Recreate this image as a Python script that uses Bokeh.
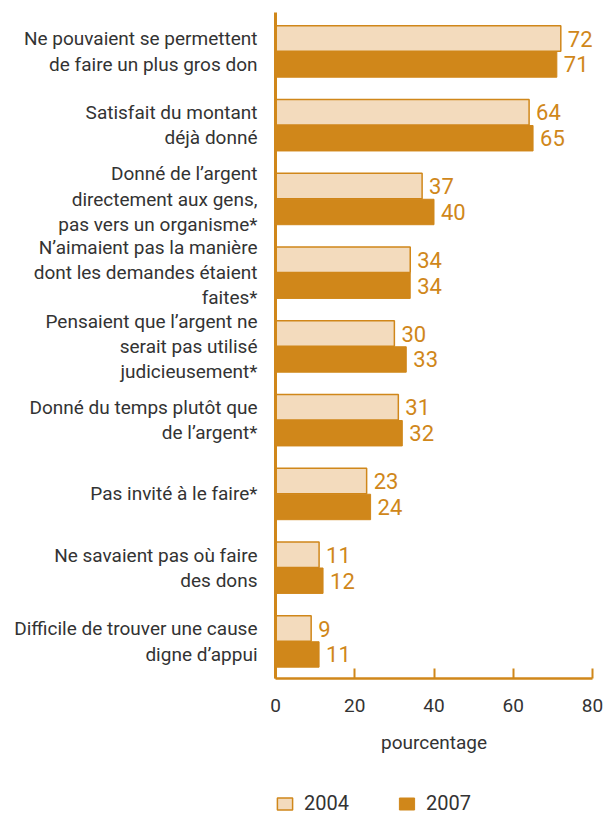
from bokeh.plotting import figure
from bokeh.models import Range1d, FixedTicker, Legend, LegendItem, ColumnDataSource
from bokeh.layouts import column
from bokeh.core.properties import value
from bokeh.embed import file_html
from bokeh.resources import INLINE

categories = [
    "Ne pouvaient se permettent\nde faire un plus gros don",
    "Satisfait du montant\ndéjà donné",
    "Donné de l’argent\ndirectement aux gens,\npas vers un organisme*",
    "N’aimaient pas la manière\ndont les demandes étaient\nfaites*",
    "Pensaient que l’argent ne\nserait pas utilisé\njudicieusement*",
    "Donné du temps plutôt que\nde l’argent*",
    "Pas invité à le faire*",
    "Ne savaient pas où faire\ndes dons",
    "Difficile de trouver une cause\ndigne d’appui",
]
values_2004 = [72, 64, 37, 34, 30, 31, 23, 11, 9]
values_2007 = [71, 65, 40, 34, 33, 32, 24, 12, 11]
x_ticks = [0, 20, 40, 60, 80]
series = ["2004", "2007"]

ORANGE = "#D0871A"
LIGHT = "#F3DBBD"
DARK_TEXT = "#333333"
FONT = "Roboto"

n = len(categories)
center_off = 0.529
half = 0.176
bar_h = 0.345
centers = [i + center_off for i in range(n)]
y04 = [c - half for c in centers]
y07 = [c + half for c in centers]

src04 = ColumnDataSource(dict(y=y04, v=values_2004, t=[str(v) for v in values_2004]))
src07 = ColumnDataSource(dict(y=y07, v=values_2007, t=[str(v) for v in values_2007]))

p = figure(width=603, height=790, output_backend="svg", toolbar_location=None,
           x_range=Range1d(0, 80), y_range=Range1d(9.031, 0),
           min_border_left=275, min_border_right=11, min_border_top=12, min_border_bottom=112)
p.outline_line_color = None
p.xgrid.visible = False
p.ygrid.visible = False

r04 = p.hbar(y="y", right="v", left=0, height=bar_h, source=src04,
             fill_color=LIGHT, line_color=ORANGE, line_width=1.5)
r07 = p.hbar(y="y", right="v", left=0, height=bar_h, source=src07,
             fill_color=ORANGE, line_color=ORANGE, line_width=1)

for src in (src04, src07):
    p.text(x="v", y="y", text="t", source=src, x_offset=7, text_baseline="middle",
           text_align="left", text_color=ORANGE, text_font_size="22px",
           text_font=value(FONT))

# x axis
xa = p.xaxis[0]
xa.ticker = FixedTicker(ticks=x_ticks)
xa.axis_line_color = ORANGE
xa.axis_line_width = 2.5
xa.major_tick_line_color = ORANGE
xa.major_tick_line_width = 2
xa.major_tick_in = 10
xa.major_tick_out = 0
xa.minor_tick_line_color = None
xa.major_label_text_color = DARK_TEXT
xa.major_label_text_font_size = "19px"
xa.major_label_text_font = FONT
xa.major_label_standoff = 20
xa.axis_label = "pourcentage"
xa.axis_label_text_color = DARK_TEXT
xa.axis_label_text_font_size = "19px"
xa.axis_label_text_font = FONT
xa.axis_label_text_font_style = "normal"
xa.axis_label_standoff = 16

# y axis
ya = p.yaxis[0]
ya.ticker = FixedTicker(ticks=centers)
ya.major_label_overrides = {c: lab for c, lab in zip(centers, categories)}
ya.axis_line_color = ORANGE
ya.axis_line_width = 3
ya.major_tick_line_color = None
ya.minor_tick_line_color = None
ya.major_label_text_color = DARK_TEXT
ya.major_label_text_font_size = "19px"
ya.major_label_text_font = FONT
ya.major_label_text_line_height = 1.09
ya.major_label_text_align = "right"
ya.major_label_standoff = 12

# legend strip (its frame is aligned with the main plot's frame by the column);
# its bar renderers are hidden, only their legend swatches show
lf = figure(width=603, height=25, output_backend="svg", toolbar_location=None,
            x_range=Range1d(500, 580), y_range=Range1d(-500, -499),
            min_border_left=275, min_border_right=11, min_border_top=0, min_border_bottom=0)
lf.axis.visible = False
lf.xgrid.visible = False
lf.ygrid.visible = False
lf.outline_line_color = None
e04 = lf.hbar(y="y", right="v", left=0, height=bar_h, source=src04,
              fill_color=LIGHT, line_color=ORANGE, line_width=1.5)
e07 = lf.hbar(y="y", right="v", left=0, height=bar_h, source=src07,
              fill_color=ORANGE, line_color=ORANGE, line_width=1)
e04.visible = False
e07.visible = False
legend = Legend(items=[LegendItem(label=series[0], renderers=[e04]),
                       LegendItem(label=series[1], renderers=[e07])],
                orientation="horizontal", location=(0, 0), click_policy="none",
                glyph_width=19, glyph_height=15, label_height=15,
                label_standoff=10, spacing=48, padding=0, margin=0,
                border_line_color=None, background_fill_alpha=0,
                label_text_font_size="20px", label_text_font=FONT,
                label_text_color=DARK_TEXT)
lf.add_layout(legend, "center")

layout = column(p, lf, spacing=0)
open("out.html", "w").write(file_html(layout, INLINE))
